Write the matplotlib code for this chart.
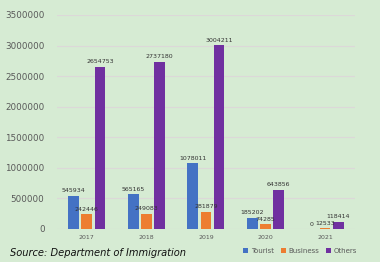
import matplotlib
matplotlib.use("Agg")
import matplotlib.pyplot as plt
from matplotlib.ticker import FuncFormatter
import numpy as np

years    = ["2017", "2018", "2019", "2020", "2021"]
tourist  = [545934, 565165, 1078011, 185202, 0]
business = [242446, 249083, 281879, 74285, 12533]
others   = [2654753, 2737180, 3004211, 643856, 118414]

BG = "#d6ebd3"
fig = plt.figure(figsize=(3.8, 2.62), dpi=100)
fig.patch.set_facecolor(BG)
ax = fig.add_axes([0.15, 0.126, 0.784, 0.817])
ax.set_facecolor(BG)

x = np.arange(len(years))
w = 0.18
gap = 0.04
series = [("Tourist", tourist, "#4472c4"), ("Business", business, "#ed7d31"), ("Others", others, "#7030a0")]
for i, (name, vals, col) in enumerate(series):
    pos = x + (i - 1) * (w + gap)
    ax.bar(pos, vals, w, color=col, label=name, zorder=3)
    for p, v in zip(pos, vals):
        ax.text(p, v + 40000, str(v), ha="center", va="bottom", fontsize=4.5, color="#333333", zorder=4)

ax.set_xlim(-0.5, len(years) - 0.5)
ax.set_ylim(0, 3500000)
ax.set_yticks(np.arange(0, 3500001, 500000))
ax.yaxis.set_major_formatter(FuncFormatter(lambda v, p: f"{int(v)}"))
ax.set_xticks(x)
ax.set_xticklabels(years)
ax.tick_params(axis="y", labelsize=6.3, colors="#595959", length=0, pad=9)
ax.tick_params(axis="x", labelsize=4.5, colors="#595959", length=0, pad=4)
ax.grid(axis="y", color="#dcd8d8", linewidth=0.8, zorder=0)
for s in ax.spines.values():
    s.set_visible(False)

fig.legend(*ax.get_legend_handles_labels(), loc="center", bbox_to_anchor=(0.79, 0.042), ncol=3,
           frameon=False, fontsize=5, handlelength=0.7, handleheight=0.7, columnspacing=1.0,
           handletextpad=0.4, labelcolor="#595959")

fig.text(0.026, 0.034, "Source: Department of Immigration", fontsize=7.1, style="italic",
         color="#111111", ha="left", va="center")

fig.savefig("out.png", dpi=100, facecolor=BG)
